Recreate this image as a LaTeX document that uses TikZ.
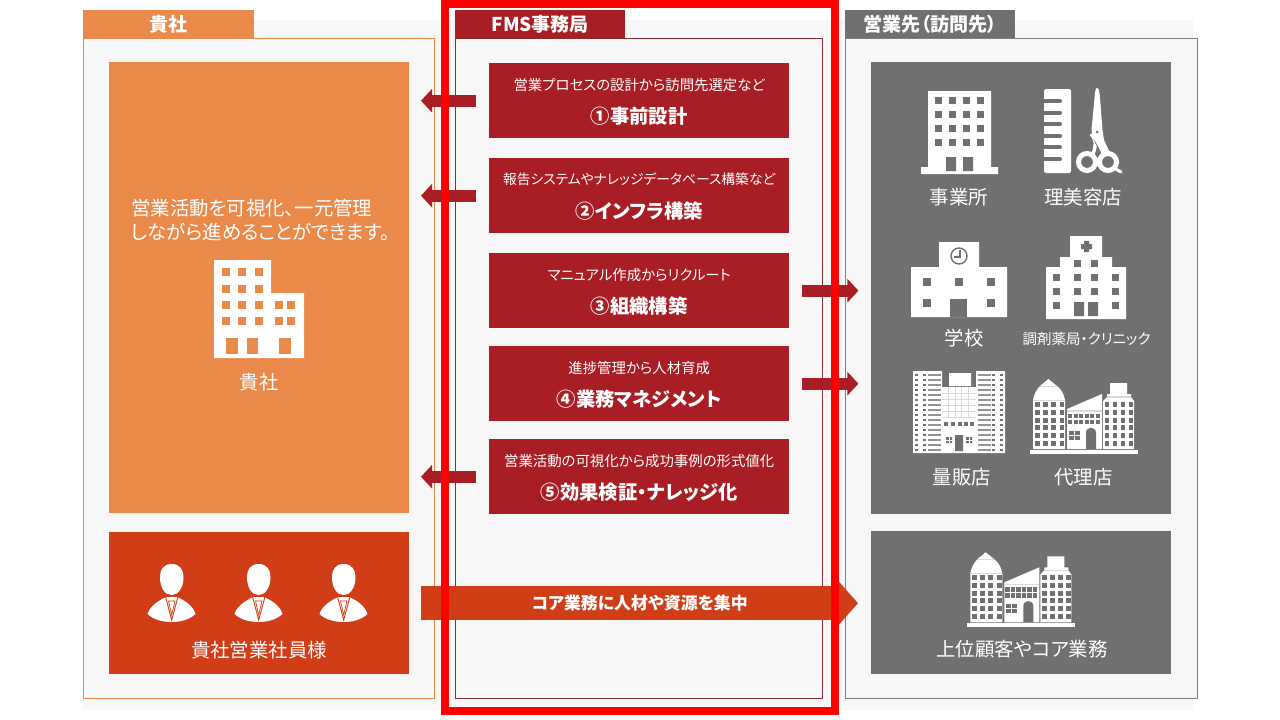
\documentclass[tikz,border=0pt]{standalone}
\usepackage{fontspec}
\setmainfont{Noto Sans CJK JP}[RawFeature=+palt]
\usetikzlibrary{arrows.meta,positioning}
\definecolor{pageGray}{HTML}{F7F7F7}
\definecolor{firmOrange}{HTML}{E9894A}
\definecolor{staffRed}{HTML}{D03D17}
\definecolor{fmsRed}{HTML}{A81E24}
\definecolor{visitGray}{HTML}{707070}
\tikzset{
	panel/.style={draw, line width=1pt, fill=pageGray, anchor=north west, inner sep=0pt},
	tab/.style={anchor=north west, inner sep=0pt, minimum width=171pt, minimum height=28pt, text=white, font=\fontsize{19}{22}\selectfont\bfseries},
	block/.style={anchor=north west, inner sep=0pt, minimum width=300pt},
	stepbox/.style={fill=fmsRed, inner sep=0pt, minimum width=300pt, minimum height=75pt},
	smalltext/.style={text=white, inner sep=0pt, font=\fontsize{14.4}{17}\selectfont},
	bigtext/.style={text=white, inner sep=0pt, font=\fontsize{19.3}{23}\selectfont\bfseries},
	label/.style={text=white, inner sep=0pt, font=\fontsize{19.4}{24}\selectfont},
	blockarrow/.style={fmsRed, line width=12pt, -{Triangle[length=11pt,width=23pt]}},
	corearrow/.style={staffRed, line width=34pt, -{Triangle[length=20pt,width=44pt]}}
}
% one person of the sales staff
\newcommand{\staffperson}[1]{
	\begin{scope}[xshift=#1pt]
		\fill[white] (171.7,564) .. controls (180,564) and (183.5,570) .. (183.5,577) .. controls (183.5,588) and (178,595) .. (171.7,595) .. controls (165,595) and (160,588) .. (160,577) .. controls (160,570) and (163,564) .. (171.7,564) -- cycle;
		\fill[white] (147.5,614) .. controls (150,606) and (158,601) .. (166,597) -- (177,597) .. controls (186,601) and (193,606) .. (195.5,614) .. controls (189,620) and (180,622) .. (171.7,622) .. controls (163,622) and (154,620) .. (147.5,614) -- cycle;
		\draw[staffRed, line width=0.9pt] (165.5,596.5) -- (171.7,620) -- (178,596.5);
		\draw[staffRed, line width=0.7pt] (168.5,601) -- (171.7,615) -- (175,601) -- cycle;
	\end{scope}
}
% shop with three parts, used twice
\newcommand{\shopicon}[2]{
	\begin{scope}[shift={(#1,#2)}]
		\fill[white] (1030,450) rectangle (1138,454);
		\fill[white] (1033,449) -- (1033,400) .. controls (1034,394) and (1037,389) .. (1040,386) -- (1048.3,379) -- (1057,386) .. controls (1061,389) and (1064,394) .. (1065,400) -- (1065,449) -- cycle;
		\fill[white] (1067,449) -- (1067,409) -- (1102,394) -- (1102,449) -- cycle;
		\fill[white] (1103,449) -- (1103,401) -- (1107,397) -- (1107,394) -- (1110,394) -- (1110,383) -- (1127,383) -- (1127,394) -- (1131,394) -- (1131,397) -- (1134,401) -- (1134,449) -- cycle;
		\draw[black!15, line width=0.8pt] (1033,400) -- (1065,400) (1040,386) -- (1057,386);
		\draw[black!15, line width=1.5pt] (1107,397) -- (1131,397);
		\draw[black!15, line width=1.5pt] (1067,411) -- (1102,411);
		\foreach \y in {402,410,418,425,433,441} {
			\foreach \x in {1035,1043,1051,1059.5}
				\fill[visitGray] (\x,\y) rectangle +(4.8,4.8);
			\foreach \x in {1104.5,1112.5,1120.5,1128.5}
				\fill[visitGray] (\x,\y) rectangle +(4.8,4.8);
		}
		\foreach \x in {1068,1073.5,1079,1084.5,1090,1095.5}
			\foreach \y in {414,420}
				\fill[visitGray] (\x,\y) rectangle +(4.2,4.2);
		\fill[visitGray] (1068.5,431) rectangle (1080,440);
		\draw[white, line width=0.7pt] (1074.2,431) -- (1074.2,440) (1068.5,435.5) -- (1080,435.5);
		\fill[visitGray] (1086,449) -- (1086,433) .. controls (1086,426) and (1096,426) .. (1096,433) -- (1096,449) -- cycle;
	\end{scope}
}
\begin{document}
\begin{tikzpicture}[x=1pt,y=-1pt]
	\useasboundingbox (0,0) rectangle (1280,720);
	\fill[pageGray] (83,20) rectangle (1193,710);

	% the three columns
	\node[panel, draw=firmOrange, minimum width=351pt, minimum height=660pt] (firm) at (83,38) {};
	\node[panel, draw=fmsRed!75!black!90, minimum width=367pt, minimum height=660pt] (fms) at (455,38) {};
	\node[panel, draw=gray, minimum width=352pt, minimum height=660pt] (visit) at (845,38) {};
	\node[tab, fill=firmOrange] (firmtab) at (83,10) {\raisebox{-1.5pt}{貴社}};
	\node[tab, fill=fmsRed, minimum width=170pt] (fmstab) at (455,10) {\raisebox{-1.5pt}{FMS事務局}};
	\node[tab, fill=visitGray, minimum width=170pt] (visittab) at (845,10) {\raisebox{-1.5pt}{営業先（訪問先）}};

	% left column
	\node[block, fill=firmOrange, minimum height=451pt] (firmbox) at (109,62) {};
	\node[block, fill=staffRed, minimum height=142pt] (staff) at (109,532) {};
	\node[label, anchor=west] (firmtext1) at (131,208) {営業活動を可視化、一元管理};
	\node[label, anchor=west] (firmtext2) at (131,232) {しながら進めることができます。};
	\fill[white] (214,260) rectangle (271,358) (271,293) rectangle (304,358);
	\foreach \x in {222,238.3,254.7}
		\foreach \y in {268,285,301,317}
			\fill[firmOrange] (\x,\y) rectangle +(8,8);
	\foreach \x in {275,287.3}
		\foreach \y in {301,317}
			\fill[firmOrange] (\x,\y) rectangle +(8,8);
	\foreach \x/\w in {226/12,247/11,279/12}
		\fill[firmOrange] (\x,338) rectangle +(\w,16);
	\node[label] (firmname) at (259,382.5) {貴社};
	\staffperson{0}
	\staffperson{87}
	\staffperson{172}
	\node[label] (staffname) at (259,650) {貴社営業社員様};

	% middle column
	\node[stepbox, anchor=north west] (step1) at (489,63) {};
	\node[stepbox, anchor=north west] (step2) at (489,158) {};
	\node[stepbox, anchor=north west] (step3) at (489,253) {};
	\node[stepbox, anchor=north west] (step4) at (489,346) {};
	\node[stepbox, anchor=north west] (step5) at (489,439) {};
	\foreach \s/\a/\b in {step1/営業プロセスの設計から訪問先選定など/①事前設計,step2/{\fontsize{13.8}{17}\selectfont 報告システムやナレッジデータベース構築など}/②インフラ構築,step3/マニュアル作成からリクルート/③組織構築,step4/進捗管理から人材育成/④業務マネジメント,step5/営業活動の可視化から成功事例の形式値化/⑤効果検証・ナレッジ化} {
		\node[smalltext] at ([yshift=16pt]\s.center) {\a};
		\node[bigtext] at ([yshift=-15.5pt]\s.center) {\b};
	}

	% right column
	\node[block, fill=visitGray, minimum height=452pt] (shops) at (871,62) {};
	\node[block, fill=visitGray, minimum height=143pt] (core) at (871,531) {};

	% office
	\fill[white] (928,91) rectangle (991,167) (921,167) rectangle (998,174);
	\foreach \x in {935,949,963,977}
		\foreach \y in {97,111,125,139}
			\fill[visitGray] (\x,\y) rectangle +(7,7);
	\fill[visitGray] (946,157) rectangle (956,171) (963,157) rectangle (973,171);
	\node[label] (office) at (959,197) {事業所};

	% comb and scissors
	\fill[white, rounded corners=2pt] (1044,89) rectangle (1071,173);
	\foreach \y in {101,112.6,124.2,135.8,147.4,159}
		\draw[visitGray, line width=4pt, line cap=round] (1041,\y) -- (1060,\y);
	\draw[white, line width=3.5pt] (1091,134) .. controls (1097,140) and (1096,149) .. (1092,155);
	\draw[white, line width=5pt] (1087,162) circle [radius=8.5pt] (1108,162) circle [radius=8.5pt];
	\draw[visitGray, line width=1.2pt] (1094,139) -- (1100,151);
	\fill[white] (1097,88) .. controls (1099,88) and (1099.5,92) .. (1100,98) -- (1102.5,130) -- (1104,140) -- (1110,153) -- (1102,155) -- (1098,146) -- (1092.5,137) -- (1091.5,130) -- (1094.5,98) .. controls (1095,92) and (1095.5,88) .. (1097,88) -- cycle;
	\draw[white, line width=3pt, line cap=round] (1114,168) -- (1121,172);
	\fill[visitGray] (1097,132) circle [radius=1.5pt];
	\node[label] (salon) at (1083,197) {理美容店};

	% school
	\fill[white] (911,267) rectangle (1007,317) (939,242) rectangle (979,267);
	\foreach \x in {923,955,987}
		\fill[visitGray] (\x,278) rectangle +(8,8);
	\foreach \x in {923,987}
		\fill[visitGray] (\x,299) rectangle +(8,8);
	\fill[visitGray] (950,299) rectangle (967,317);
	\draw[visitGray, line width=1.4pt] (959,256) circle [radius=8pt];
	\draw[visitGray, line width=1.2pt] (960,250) -- (960,257) -- (954,257);
	\node[label] (school) at (964,338) {学校};

	% clinic
	\fill[white] (1046,267) rectangle (1126,319) (1060,257) rectangle (1112,267) (1070,236) rectangle (1102,257);
	\fill[visitGray] (1084,241) rectangle (1089,252) (1081,244) rectangle (1092,249);
	\foreach \x in {1074,1091}
		\fill[visitGray] (\x,260) rectangle +(7,7);
	\foreach \x in {1053,1074,1091,1112}
		\foreach \y in {274,288}
			\fill[visitGray] (\x,\y) rectangle +(7,7);
	\foreach \x in {1053,1112}
		\fill[visitGray] (\x,302) rectangle +(7,7);
	\fill[visitGray] (1074,302) rectangle (1084,316) (1088,302) rectangle (1098,316);
	\node[label, font=\fontsize{14.5}{17}\selectfont] (clinic) at (1086.5,339) {調剤薬局・クリニック};

	% mass retailer
	\fill[white] (913,371) rectangle (942,453) (976,371) rectangle (1005,453) (942,387) rectangle (976,453) (949,373) rectangle (971,386);
	\foreach \i in {0,...,15} {
		\foreach \x in {915,922.5,992,1000}
			\fill[visitGray] (\x,373.5+5*\i) rectangle +(3.4,2.8);
		\foreach \x in {928,977.5}
			\fill[visitGray!75] (\x,374+5*\i) rectangle +(13,1.6);
	}
	\foreach \x in {948.5,955,961.5,968}
		\draw[black!15, line width=0.6pt] (\x,387) -- (\x,417);
	\foreach \y in {393,399,405,411,417}
		\draw[black!15, line width=0.6pt] (942,\y) -- (976,\y);
	\foreach \x in {944,951,958,964,970}
		\fill[visitGray] (\x,422) rectangle +(4,4);
	\fill[visitGray] (946,437) rectangle (952,443) (966,437) rectangle (972,443) (955,435) rectangle (963,451);
	\draw[white, line width=0.6pt] (949,437) -- (949,443) (969,437) -- (969,443) (946,440) -- (952,440) (966,440) -- (972,440);
	\node[label] (retailer) at (962,477) {量販店};

	% agency and key accounts
	\shopicon{0}{0}
	\node[label] (agency) at (1083.5,477) {代理店};
	\shopicon{-62.7}{173.3}
	\node[label] (keyaccount) at (1022,649) {上位顧客やコア業務};

	% arrows between the columns
	\coordinate (firmside1) at ([xshift=-68pt]step1.west);
	\coordinate (firmside2) at ([xshift=-68pt]step2.west);
	\coordinate (firmside5) at ([xshift=-68pt]step5.west);
	\coordinate (visitside3) at ([xshift=69pt]step3.east);
	\coordinate (visitside4) at ([xshift=69pt]step4.east);
	\draw[blockarrow] ([xshift=-13pt]step1.west) -- (firmside1);
	\draw[blockarrow] ([xshift=-13pt]step2.west) -- (firmside2);
	\draw[blockarrow] ([xshift=-13pt]step5.west) -- (firmside5);
	\draw[blockarrow] ([xshift=13pt]step3.east) -- (visitside3);
	\draw[blockarrow] ([xshift=13pt]step4.east) -- (visitside4);
	\coordinate (coretip) at ([xshift=-13pt]core.west |- staff.east);
	\draw[corearrow] ([xshift=12pt]staff.east) -- node[text=white, inner sep=0pt, font=\fontsize{16.9}{20}\selectfont\bfseries] (coretext) {コア業務に人材や資源を集中} (coretip);

	% red frame on top
	\draw[red, line width=8pt] (445,4) rectangle (834.5,711);
\end{tikzpicture}
\end{document}
